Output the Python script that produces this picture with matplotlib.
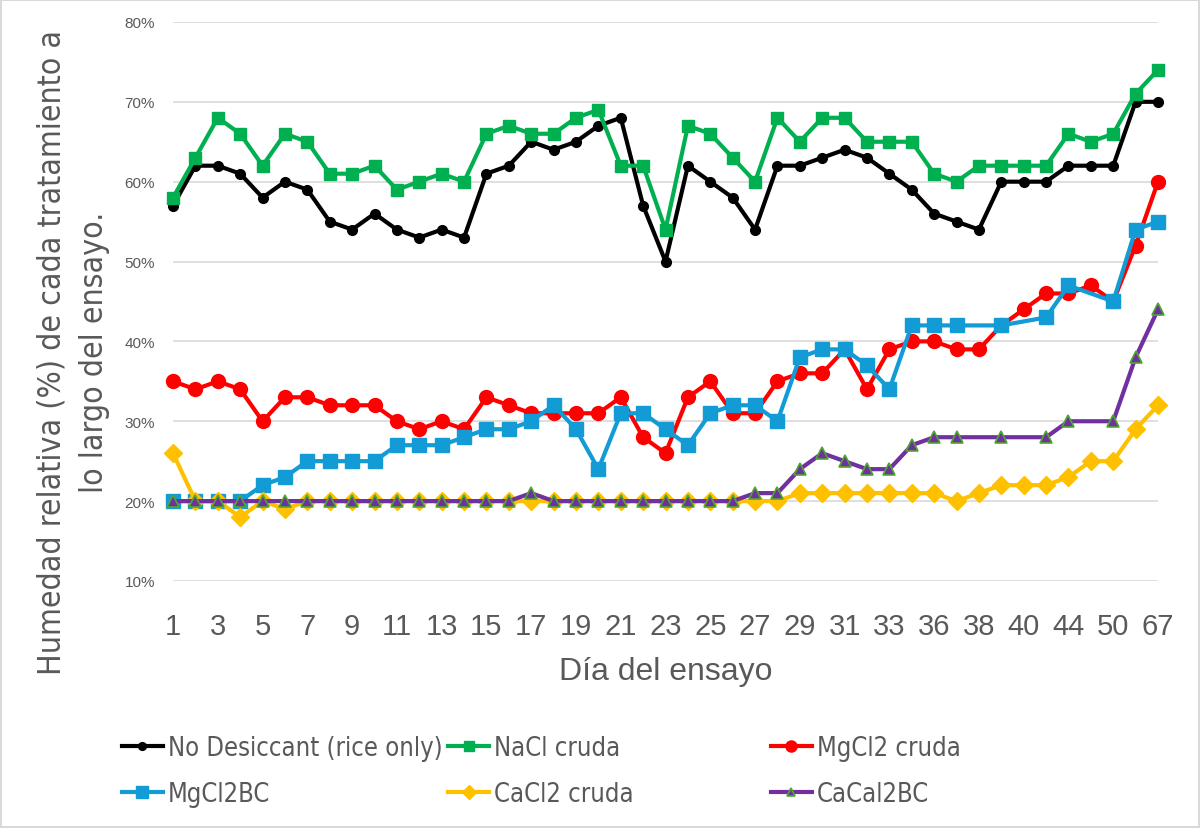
import numpy as np
import matplotlib
matplotlib.use('Agg')
import matplotlib.pyplot as plt
from matplotlib import font_manager
from matplotlib.ticker import FuncFormatter

# day of the trial (only every other one is labelled)
days = [1, 2, 3, 4, 5, 6, 7, 8, 9, 10, 11, 12, 13, 14, 15, 16, 17, 18, 19, 20,
        21, 22, 23, 24, 25, 26, 27, 28, 29, 30, 31, 32, 33, 35, 36, 37, 38, 39,
        40, 42, 44, 47, 50, 60, 67]

# relative humidity (%), None = no reading
no_desiccant = [57, 62, 62, 61, 58, 60, 59, 55, 54, 56, 54, 53, 54, 53, 61, 62, 65, 64, 65, 67,
                68, 57, 50, 62, 60, 58, 54, 62, 62, 63, 64, 63, 61, 59, 56, 55, 54, 60, 60, 60,
                62, 62, 62, 70, 70]
nacl = [58, 63, 68, 66, 62, 66, 65, 61, 61, 62, 59, 60, 61, 60, 66, 67, 66, 66, 68, 69,
        62, 62, 54, 67, 66, 63, 60, 68, 65, 68, 68, 65, 65, 65, 61, 60, 62, 62, 62, 62,
        66, 65, 66, 71, 74]
mgcl2 = [35, 34, 35, 34, 30, 33, 33, 32, 32, 32, 30, 29, 30, 29, 33, 32, 31, 31, 31, 31,
         33, 28, 26, 33, 35, 31, 31, 35, 36, 36, 39, 34, 39, 40, 40, 39, 39, 42, 44, 46,
         46, 47, 45, 52, 60]
mgcl2bc = [20, 20, 20, 20, 22, 23, 25, 25, 25, 25, 27, 27, 27, 28, 29, 29, 30, 32, 29, 24,
           31, 31, 29, 27, 31, 32, 32, 30, 38, 39, 39, 37, 34, 42, 42, 42, None, 42, None, 43,
           47, None, 45, 54, 55]
cacl2 = [26, 20, 20, 18, 20, 19, 20, 20, 20, 20, 20, 20, 20, 20, 20, 20, 20, 20, 20, 20,
         20, 20, 20, 20, 20, 20, 20, 20, 21, 21, 21, 21, 21, 21, 21, 20, 21, 22, 22, 22,
         23, 25, 25, 29, 32]
cacal2bc = [20, 20, 20, 20, 20, 20, 20, 20, 20, 20, 20, 20, 20, 20, 20, 20, 21, 20, 20, 20,
            20, 20, 20, 20, 20, 20, 21, 21, 24, 26, 25, 24, 24, 27, 28, 28, None, 28, None, 28,
            30, None, 30, 38, 44]

# look for a narrow face (the original uses a condensed font)
narrow_file = None
for f in font_manager.fontManager.ttflist:
    if ('Narrow' in f.name or 'Condensed' in f.name or str(f.stretch) == 'condensed') \
            and f.weight in (400, 'normal', 'regular') and f.style == 'normal':
        narrow_file = f.fname
        break


def narrow_font(size):
    if narrow_file:
        return font_manager.FontProperties(fname=narrow_file, size=size)
    return font_manager.FontProperties(family='Liberation Sans', size=size)


fig = plt.figure(figsize=(12, 8.29), dpi=100)
ax = fig.add_axes([0.1442, 0.298, 0.8208, 0.6743])

x = np.arange(len(days))

series = [
    ('No Desiccant (rice only)', no_desiccant, dict(color='black', marker='o', ms=7)),
    ('NaCl cruda', nacl, dict(color='#00b050', marker='s', ms=8.5)),
    ('MgCl2 cruda', mgcl2, dict(color='#ff0000', marker='o', ms=10)),
    ('MgCl2BC', mgcl2bc, dict(color='#139bd6', marker='s', ms=10)),
    ('CaCl2 cruda', cacl2, dict(color='#ffc000', marker='D', ms=9)),
    ('CaCal2BC', cacal2bc, dict(color='#7030a0', marker='^', ms=8,
                                markeredgecolor='#4ea72e', markeredgewidth=1.2)),
]

lines = []
for name, vals, style in series:
    y = np.array([np.nan if v is None else v for v in vals], dtype=float)
    ok = ~np.isnan(y)
    ln, = ax.plot(x[ok], y[ok], lw=3, label=name, clip_on=False, **style)
    lines.append(ln)

ax.set_xlim(0, len(days) - 1)
ax.set_ylim(10, 80)
ax.set_yticks(np.arange(10, 81, 10))
ax.yaxis.set_major_formatter(FuncFormatter(lambda v, p: '%d%%' % v))
ax.set_xticks(x[::2])
ax.set_xticklabels([str(d) for d in days[::2]])
ax.grid(axis='y', color='#d9d9d9', lw=1.2)
ax.set_axisbelow(True)
for s in ax.spines.values():
    s.set_visible(False)
ax.tick_params(axis='both', length=0)
ax.tick_params(axis='y', labelsize=11, labelcolor='#595959', pad=13)
ax.tick_params(axis='x', labelsize=21, labelcolor='#595959', pad=22)
for t in ax.get_yticklabels():
    t.set_family('Liberation Sans')
for t in ax.get_xticklabels():
    t.set_family('Liberation Sans')

ax.set_xlabel('Día del ensayo', fontsize=23, color='#595959', family='Liberation Sans', labelpad=12)
ylab = fig.text(0.061, 0.575, 'Humedad relativa (%) de cada tratamiento a\nlo largo del ensayo.',
                rotation=90, ha='center', va='center', multialignment='center',
                fontproperties=narrow_font(26), color='#595959', linespacing=1.5)

# shrink the y label until its long side is about as tall as in the original
renderer = fig.canvas.get_renderer()
h = ylab.get_window_extent(renderer).height
if h > 645:
    ylab.set_fontproperties(narrow_font(26 * 645 / h))

# legend: three columns of two entries
leg_size = 20
probe = fig.text(0, 0, 'No Desiccant (rice only)', fontproperties=narrow_font(leg_size))
w = probe.get_window_extent(renderer).width
probe.remove()
if w > 280:
    leg_size = leg_size * 275 / w

cols = [(0.093, [0, 3]), (0.365, [1, 4]), (0.634, [2, 5])]
for xpos, idx in cols:
    leg = fig.legend([lines[i] for i in idx], [series[i][0] for i in idx],
                     loc='upper left', bbox_to_anchor=(xpos, 0.125),
                     bbox_transform=fig.transFigure, frameon=False,
                     prop=narrow_font(leg_size), handlelength=1.6,
                     handletextpad=0.2, labelspacing=0.8, borderaxespad=0)
    for t in leg.get_texts():
        t.set_color('#595959')
    for hd in leg.legend_handles:
        hd.set_markersize(hd.get_markersize() * 0.8)

fig.patch.set_edgecolor('#d9d9d9')
fig.patch.set_linewidth(1.5)
fig.savefig('out.png', dpi=100, edgecolor=fig.get_edgecolor())
